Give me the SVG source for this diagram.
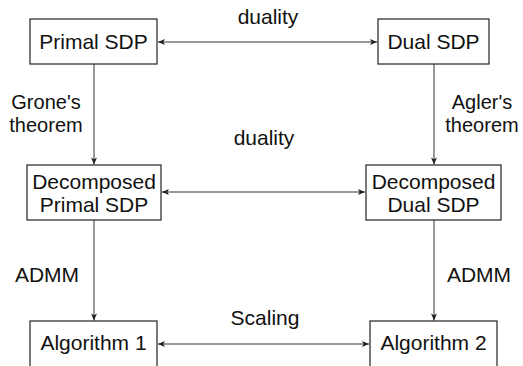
<svg xmlns="http://www.w3.org/2000/svg" width="523" height="366" viewBox="0 0 523 366">
<style>
.box{fill:#fff;stroke:#222;stroke-width:1.2}
.t{font-family:"Liberation Sans",Arial,sans-serif;font-size:21px;fill:#111;text-anchor:middle}
.l{font-size:20px}
.c{stroke:#333;stroke-width:1;fill:none;marker-end:url(#ah)}
.b{marker-start:url(#ah)}
</style>
<defs>
<marker id="ah" viewBox="0 0 8 8" refX="7.5" refY="4" markerWidth="8" markerHeight="8" markerUnits="userSpaceOnUse" orient="auto-start-reverse">
<path d="M0.5,1 L7.5,4 L0.5,7 L2.2,4 Z" fill="#222"/>
</marker>
</defs>
<rect width="523" height="366" fill="#fff"/>
<g id="connectors">
<line class="c b" x1="158" y1="42" x2="377" y2="42"/>
<line class="c b" x1="162" y1="192" x2="365" y2="192"/>
<line class="c b" x1="158" y1="344" x2="369" y2="344"/>
<line class="c" x1="94" y1="64" x2="94" y2="164.5"/>
<line class="c" x1="434" y1="64" x2="434" y2="164.5"/>
<line class="c" x1="94" y1="220" x2="94" y2="320.5"/>
<line class="c" x1="434" y1="220" x2="434" y2="320.5"/>
<text class="t" x="268" y="24">duality</text>
<text class="t" x="264" y="145">duality</text>
<text class="t" x="265" y="325">Scaling</text>
<text class="t l" x="46" y="109">Grone's</text>
<text class="t l" x="46" y="132">theorem</text>
<text class="t l" x="482" y="109">Agler's</text>
<text class="t l" x="482" y="132">theorem</text>
<text class="t" x="47" y="282">ADMM</text>
<text class="t" x="479" y="282">ADMM</text>
</g>
<g id="primal"><rect class="box" x="30" y="19" width="127" height="45"/><text class="t" x="93.5" y="48.5">Primal SDP</text></g>
<g id="dual"><rect class="box" x="378" y="19" width="111" height="45"/><text class="t" x="433.5" y="48.5">Dual SDP</text></g>
<g id="dprimal"><rect class="box" x="27" y="165" width="134" height="55"/><text class="t" x="94" y="188.5">Decomposed</text><text class="t" x="94" y="211.5">Primal SDP</text></g>
<g id="ddual"><rect class="box" x="366" y="165" width="135" height="55"/><text class="t" x="433.5" y="188.5">Decomposed</text><text class="t" x="433.5" y="211.5">Dual SDP</text></g>
<g id="alg1"><rect class="box" x="30" y="321" width="127" height="60"/><text class="t" x="93.5" y="350">Algorithm 1</text></g>
<g id="alg2"><rect class="box" x="370" y="321" width="127" height="60"/><text class="t" x="433.5" y="350">Algorithm 2</text></g>
</svg>
